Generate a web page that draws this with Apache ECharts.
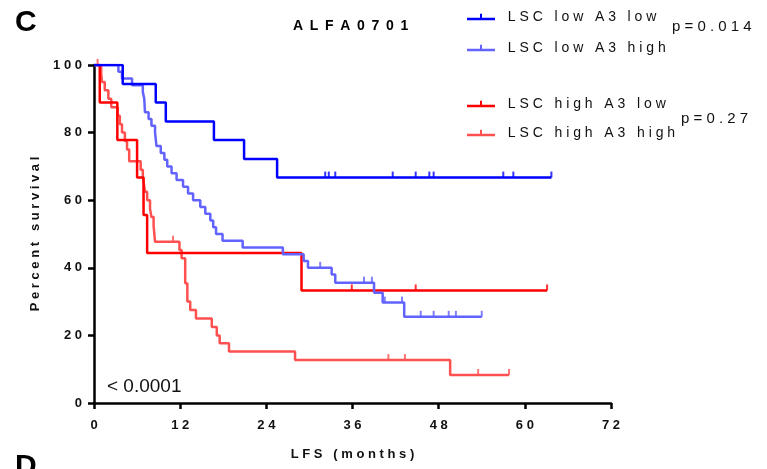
<!DOCTYPE html>
<html>
<head>
<meta charset="utf-8">
<script src="https://cdn.jsdelivr.net/npm/echarts@6/dist/echarts.min.js"></script>
<style>
  html, body { margin: 0; padding: 0; background: #fff; }
  #km-chart { width: 767px; height: 469px; }
</style>
</head>
<body>
<div id="km-chart"></div>
<script>
// 坐标刻度
var xTicks = [0, 12, 24, 36, 48, 60, 72];
var yTicks = [0, 20, 40, 60, 80, 100];

// LSC low A3 low （时间点 / 生存率）
var lowLowT = [0, 4.0, 8.6, 10.0, 16.7, 20.9, 25.5, 63.7];
var lowLowS = [100, 94.4, 88.9, 83.3, 77.8, 72.2, 66.7, 66.7];
var lowLowCensor = [32.2, 32.7, 33.6, 41.6, 44.8, 46.7, 47.3, 57.0, 58.4, 63.7];

// LSC low A3 high
var lowHighT = [0, 3.4, 3.9, 5.3, 6.8, 7.0, 7.1, 7.6, 8.0, 8.5, 8.7, 9.3, 9.8, 10.2, 10.8, 11.5, 12.4,
  13.1, 13.8, 14.8, 15.5, 16.2, 16.6, 17.0, 17.9, 20.7, 26.3, 29.2, 29.8, 33.1, 33.6, 39.0, 40.2, 43.2, 54.0];
var lowHighS = [100, 98, 96, 94, 92, 90, 86, 84, 82, 80, 76, 74, 72, 70, 68, 66, 64,
  62, 60, 58, 56, 54, 52, 50, 48, 46, 44, 42, 40, 38, 35.6, 32.6, 29.7, 25.5, 25.5];
var lowHighCensor = [31.5, 37.6, 38.7, 40.5, 42.9, 45.5, 47.3, 49.4, 50.4, 54.0];

// LSC high A3 low
var highLowT = [0, 0.8, 3.25, 6.0, 6.9, 7.4, 28.9, 63.1];
var highLowS = [100, 88.9, 77.8, 66.7, 55.6, 44.4, 33.3, 33.3];
var highLowCensor = [35.9, 44.8, 63.1];

// LSC high A3 high
var highHighT = [0, 1.0, 1.1, 1.5, 2.0, 2.4, 3.3, 3.6, 3.9, 4.3, 4.6, 4.9, 6.5, 6.8, 7.0, 7.1, 7.4, 7.8,
  8.0, 8.3, 8.5, 11.9, 12.2, 12.7, 13.0, 13.4, 14.2, 16.4, 17.1, 17.5, 18.8, 28.0, 49.6, 57.8];
var highHighS = [100, 97.5, 95, 92.5, 90, 87.5, 85, 82.5, 80, 77.5, 75, 71.5, 69, 67, 64, 62.5, 60, 57.5,
  55, 52.5, 47.7, 45.3, 42.8, 35.4, 30, 27.5, 25, 22.5, 20, 17.7, 15.2, 12.7, 8.3, 8.3];
var highHighCensor = [0.5, 11.0, 41.0, 43.3, 53.5, 57.8];

var seriesNames = ['LSC low A3 low', 'LSC low A3 high', 'LSC high A3 low', 'LSC high A3 high'];
var seriesColors = ['#0000ff', '#6262ff', '#ff0000', '#ff5050'];

// 字间距（用空格模拟）
function spaced(s, sep) {
  return s.split('').join(sep || ' ');
}

// 阶梯曲线上某时间点的值
function levelAt(ts, ss, t) {
  var v = ss[0];
  for (var i = 0; i < ts.length; i++) {
    if (ts[i] <= t) v = ss[i];
  }
  return v;
}

function pairs(ts, ss) {
  return ts.map(function (t, i) { return [t, ss[i]]; });
}

function censorPts(ts, ss, cs) {
  return cs.map(function (t) { return [t, levelAt(ts, ss, t)]; });
}

var groups = [
  [lowLowT, lowLowS, lowLowCensor],
  [lowHighT, lowHighS, lowHighCensor],
  [highLowT, highLowS, highLowCensor],
  [highHighT, highHighS, highHighCensor]
];

// 画的顺序：浅色在下
var drawOrder = [3, 2, 1, 0];
var series = [];
drawOrder.forEach(function (k) {
  var g = groups[k];
  series.push({
    name: seriesNames[k],
    type: 'line',
    step: 'end',
    symbol: 'none',
    data: pairs(g[0], g[1]),
    color: seriesColors[k],
    lineStyle: { width: 2.5, color: seriesColors[k] },
    z: 2 + (3 - k)
  });
  series.push({
    name: seriesNames[k] + ' censored',
    type: 'scatter',
    data: censorPts(g[0], g[1], g[2]),
    symbol: 'rect',
    symbolSize: [2, 6],
    symbolOffset: [0, -3],
    itemStyle: { color: seriesColors[k] },
    clip: false,
    silent: true,
    z: 2 + (3 - k)
  });
});

var chart = echarts.init(document.getElementById('km-chart'));

var legendIcon = 'path://M0,6 L28,6 L28,8.5 L0,8.5 Z M13,2 L15,2 L15,7 L13,7 Z';
var baseFont = 'Liberation Sans, Arial, sans-serif';

var option = {
  animation: false,
  grid: { left: 94, right: 156, top: 65, bottom: 66 },
  legend: [
    {
      data: seriesNames.slice(0, 2),
      orient: 'vertical',
      left: 462,
      top: 5,
      itemWidth: 28,
      itemHeight: 9,
      itemGap: 17,
      icon: legendIcon,
      formatter: function (n) { return '  ' + spaced(n); },
      textStyle: { fontSize: 14, color: '#111', fontFamily: baseFont }
    },
    {
      data: seriesNames.slice(2, 4),
      orient: 'vertical',
      left: 462,
      top: 92,
      itemWidth: 28,
      itemHeight: 9,
      itemGap: 15,
      icon: legendIcon,
      formatter: function (n) { return '  ' + spaced(n); },
      textStyle: { fontSize: 14, color: '#111', fontFamily: baseFont }
    }
  ],
  xAxis: {
    type: 'value',
    min: xTicks[0],
    max: xTicks[xTicks.length - 1],
    interval: 12,
    name: spaced('LFS (months)'),
    nameLocation: 'middle',
    nameGap: 45,
    nameTextStyle: { fontSize: 13, fontWeight: 'bold', color: '#111', fontFamily: baseFont },
    axisLine: { lineStyle: { color: '#000', width: 2.5 } },
    axisTick: { length: 6, lineStyle: { color: '#000', width: 2.5 } },
    axisLabel: {
      margin: 16,
      fontSize: 13,
      fontWeight: 'bold',
      color: '#111',
      fontFamily: baseFont,
      formatter: function (v) { return spaced(String(v)); }
    },
    splitLine: { show: false }
  },
  yAxis: {
    type: 'value',
    min: yTicks[0],
    max: yTicks[yTicks.length - 1],
    interval: 20,
    name: spaced('Percent survival'),
    nameLocation: 'middle',
    nameGap: 52,
    nameTextStyle: { fontSize: 13, fontWeight: 'bold', color: '#111', fontFamily: baseFont },
    axisLine: { show: true, lineStyle: { color: '#000', width: 2.5 } },
    axisTick: { show: true, length: 6, lineStyle: { color: '#000', width: 2.5 } },
    axisLabel: {
      margin: 12,
      fontSize: 13,
      fontWeight: 'bold',
      color: '#111',
      fontFamily: baseFont,
      formatter: function (v) { return spaced(String(v)); }
    },
    splitLine: { show: false }
  },
  graphic: [
    { type: 'text', left: 15, top: 8, style: { text: 'C', font: 'bold 30px ' + baseFont, fill: '#000' } },
    { type: 'text', left: 15, top: 452, style: { text: 'D', font: 'bold 30px ' + baseFont, fill: '#000' } },
    { type: 'text', left: 293, top: 19, style: { text: spaced('ALFA0701', ' \u2009'), font: 'bold 14px ' + baseFont, fill: '#000' } },
    { type: 'text', left: 672, top: 19, style: { text: spaced('p=0.014'), font: '15px ' + baseFont, fill: '#111' } },
    { type: 'text', left: 681, top: 111, style: { text: spaced('p=0.27'), font: '15px ' + baseFont, fill: '#111' } },
    { type: 'text', left: 107, top: 377, style: { text: '< 0.0001', font: '19px ' + baseFont, fill: '#111' } }
  ],
  series: series
};

chart.setOption(option);
</script>
</body>
</html>
